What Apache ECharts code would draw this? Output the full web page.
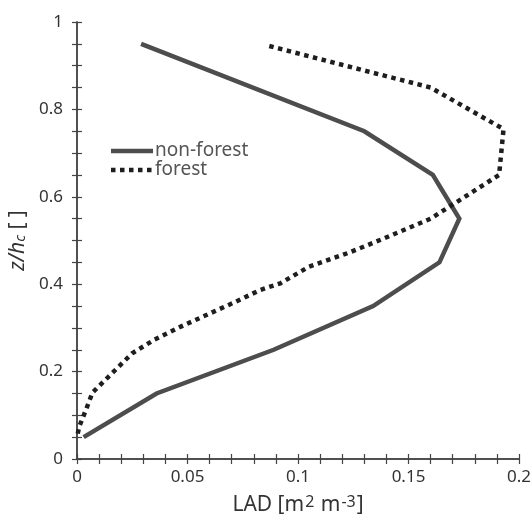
<!DOCTYPE html>
<html>
<head>
<meta charset="utf-8">
<script src="https://cdn.jsdelivr.net/npm/echarts@6/dist/echarts.min.js"></script>
<style>
  html, body { margin: 0; padding: 0; background: #fff; }
  #chart { width: 531px; height: 521px; }
</style>
</head>
<body>
<div id="chart"></div>
<script>
// Leaf area density profiles against normalised height
const nonForestLad = [0.029, 0.13, 0.161, 0.173, 0.164, 0.134, 0.089, 0.036, 0.003];
const nonForestZ   = [0.95, 0.75, 0.65, 0.55, 0.45, 0.35, 0.25, 0.15, 0.05];

const forestLad = [0.087, 0.16, 0.193, 0.191, 0.16, 0.139, 0.123, 0.105, 0.092, 0.083, 0.071, 0.047, 0.035, 0.025, 0.015, 0.007, 0.004, 0.001, 0.0];
const forestZ   = [0.945, 0.85, 0.755, 0.65, 0.55, 0.505, 0.472, 0.44, 0.402, 0.387, 0.358, 0.303, 0.273, 0.242, 0.192, 0.152, 0.112, 0.074, 0.05];

const seriesNames = ['non-forest', 'forest'];

const pairs = (xs, ys) => xs.map((x, i) => [x, ys[i]]);

const font = 'Noto Sans';
const axisColor = '#444';
const textColor = '#333';
const solidColor = '#4d4d4d';
const dotColor = '#1e1e1e';
const dotDash = [4.5, 4.5];

function frameAxis(extra) {
  return Object.assign({
    type: 'value',
    axisLine: { show: true, lineStyle: { color: axisColor, width: 1.5 } },
    axisTick: { show: true, inside: true, length: 5, lineStyle: { color: axisColor, width: 1.2 } },
    minorTick: { show: true, splitNumber: 5, length: 5, lineStyle: { color: axisColor, width: 1.2 } },
    splitLine: { show: false },
    axisLabel: { show: false }
  }, extra);
}

// legend drawn as plain shapes so the samples keep the thick line styles
function legendEntry(y, name, stroke, dash) {
  return [
    {
      type: 'line',
      shape: { x1: 111, y1: y, x2: 153, y2: y },
      style: { stroke: stroke, lineWidth: 4.5, lineDash: dash || null, lineCap: 'butt' }
    },
    {
      type: 'text',
      x: 155, y: y,
      style: { text: name, fontFamily: font, fontSize: 19, fill: '#555', verticalAlign: 'middle', align: 'left' }
    }
  ];
}

const chart = echarts.init(document.getElementById('chart'), null, { renderer: 'canvas' });

chart.setOption({
  animation: false,
  backgroundColor: '#fff',
  grid: { left: 77, right: 12, top: 22, bottom: 62, containLabel: false, outerBoundsMode: 'none' },
  graphic: [].concat(
    legendEntry(151, seriesNames[0], solidColor, null),
    legendEntry(170, seriesNames[1], dotColor, dotDash)
  ),
  xAxis: [
    frameAxis({
      position: 'bottom',
      min: 0, max: 0.2, interval: 0.05,
      axisLabel: {
        show: true, margin: 10, color: textColor, fontFamily: font, fontSize: 17,
        formatter: v => String(+v.toFixed(2))
      },
      name: '{a|LAD [m}{s|2}{a| m}{s|-3}{a|]}',
      nameLocation: 'middle',
      nameGap: 35,
      nameTextStyle: {
        rich: {
          a: { fontFamily: font, fontSize: 21, color: textColor },
          s: { fontFamily: font, fontSize: 16, color: textColor, verticalAlign: 'top', padding: [0, 1, 6, 1] }
        }
      }
    }),
    frameAxis({ position: 'top', min: 0, max: 0.2, interval: 0.05 })
  ],
  yAxis: [
    frameAxis({
      position: 'left',
      min: 0, max: 1, interval: 0.2,
      minorTick: { show: true, splitNumber: 4, length: 5, lineStyle: { color: axisColor, width: 1.2 } },
      axisLabel: {
        show: true, margin: 14, color: textColor, fontFamily: font, fontSize: 17,
        formatter: v => String(+v.toFixed(1))
      },
      name: '{i|z/h}{c|c}{a| [ ]}',
      nameLocation: 'middle',
      nameRotate: 90,
      nameGap: 45,
      nameTextStyle: {
        rich: {
          i: { fontFamily: font, fontSize: 21, fontStyle: 'italic', color: textColor },
          c: { fontFamily: font, fontSize: 15, fontStyle: 'italic', color: textColor, verticalAlign: 'bottom' },
          a: { fontFamily: font, fontSize: 21, color: textColor }
        }
      }
    }),
    frameAxis({
      position: 'right',
      min: 0, max: 1, interval: 0.2,
      minorTick: { show: true, splitNumber: 4, length: 5, lineStyle: { color: axisColor, width: 1.2 } }
    })
  ],
  series: [
    {
      name: seriesNames[0],
      type: 'line',
      data: pairs(nonForestLad, nonForestZ),
      symbol: 'none',
      color: solidColor,
      lineStyle: { color: solidColor, width: 4.5, cap: 'butt', join: 'miter' }
    },
    {
      name: seriesNames[1],
      type: 'line',
      data: pairs(forestLad, forestZ),
      symbol: 'none',
      color: dotColor,
      lineStyle: { color: dotColor, width: 4.5, type: dotDash, cap: 'butt', join: 'miter' }
    }
  ]
});
</script>
</body>
</html>
